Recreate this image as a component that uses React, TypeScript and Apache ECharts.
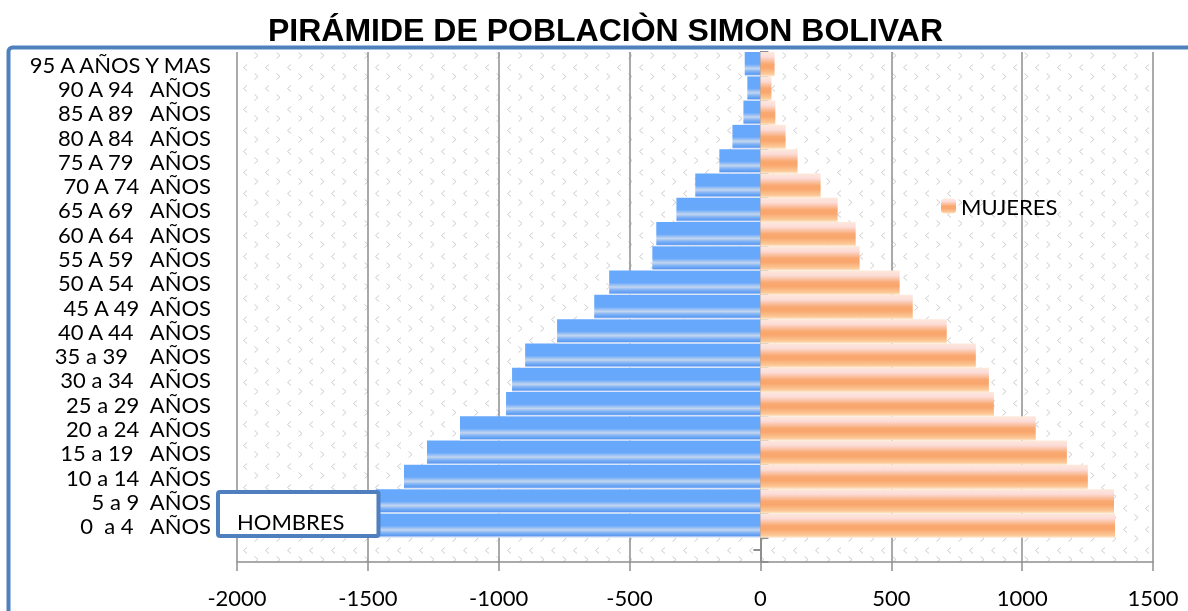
import React, { useEffect, useRef } from 'react';
import * as echarts from 'echarts';

const categories = [
  '',
  '0  a 4   AÑOS',
  '5 a 9  AÑOS',
  '10 a 14  AÑOS',
  '15 a 19   AÑOS',
  '20 a 24  AÑOS',
  '25 a 29  AÑOS',
  '30 a 34   AÑOS',
  '35 a 39    AÑOS',
  '40 A 44   AÑOS',
  '45 A 49  AÑOS',
  '50 A 54   AÑOS',
  '55 A 59   AÑOS',
  '60 A 64   AÑOS',
  '65 A 69   AÑOS',
  '70 A 74  AÑOS',
  '75 A 79   AÑOS',
  '80 A 84   AÑOS',
  '85 A 89   AÑOS',
  '90 A 94   AÑOS',
  '95 A AÑOS Y MAS',
];

const hombres = [null, -1490, -1470, -1362, -1274, -1148, -972, -949, -899, -777, -635, -578, -413, -398, -321, -249, -157, -107, -65, -50, -60];
const mujeres = [null, 1355, 1351, 1251, 1171, 1052, 892, 873, 823, 712, 582, 532, 379, 364, 295, 230, 142, 96, 57, 42, 54];

const xTicks = { min: -2000, max: 1500, interval: 500 };

const FONT = 'Lato, "Noto Sans", sans-serif';

export default function App() {
  const ref = useRef<HTMLDivElement>(null);

  useEffect(() => {
    const el = ref.current as HTMLDivElement;
    const chart = echarts.init(el, null, { renderer: 'svg' });

    const c = document.createElement('canvas');
    c.width = 22;
    c.height = 21;
    const ctx = c.getContext('2d') as CanvasRenderingContext2D;
    ctx.fillStyle = '#ffffff';
    ctx.fillRect(0, 0, 22, 21);
    ctx.strokeStyle = '#cdcdcd';
    ctx.lineWidth = 1;
    ctx.beginPath();
    ctx.moveTo(5, 1.5);
    ctx.lineTo(1.5, 4.5);
    ctx.lineTo(5, 7.5);
    ctx.stroke();
    ctx.beginPath();
    ctx.moveTo(12.5, 10.5);
    ctx.lineTo(16, 13.5);
    ctx.lineTo(12.5, 16.5);
    ctx.stroke();
    const patternUrl = c.toDataURL();

    const blue = new echarts.graphic.LinearGradient(0, 0, 0, 1, [
      { offset: 0, color: '#66a8fc' },
      { offset: 0.5, color: '#68a8fb' },
      { offset: 0.68, color: '#c3d5ef' },
      { offset: 0.8, color: '#7fb2f5' },
      { offset: 0.92, color: '#5b9af2' },
      { offset: 0.97, color: '#dbe4f8' },
      { offset: 1, color: '#dbe4f8' },
    ]);
    const orange = new echarts.graphic.LinearGradient(0, 0, 0, 1, [
      { offset: 0, color: '#fde9dc' },
      { offset: 0.2, color: '#fcdcd8' },
      { offset: 0.5, color: '#f9a870' },
      { offset: 0.65, color: '#f9a66d' },
      { offset: 0.9, color: '#fcc896' },
      { offset: 1, color: '#fee9d0' },
    ]);

    const gridLeft = 237;
    const gridTop = 52;
    const gridRight = 35;
    const gridBottom = 49;

    chart.setOption({
      animation: false,
      textStyle: { fontFamily: FONT },
      title: {
        text: 'PIRÁMIDE DE POBLACIÒN SIMON BOLIVAR',
        left: 263,
        top: 9,
        textStyle: {
          fontFamily: '"Liberation Sans", Arial, sans-serif',
          fontWeight: 'bold',
          fontSize: 32,
          color: '#000',
        },
      },
      grid: { left: gridLeft, right: gridRight, top: gridTop, bottom: gridBottom },
      legend: [
        {
          data: [{ name: 'HOMBRES', itemStyle: { opacity: 0 } }],
          left: 218,
          top: 492,
          orient: 'horizontal',
          selectedMode: false,
          backgroundColor: '#ffffff',
          borderColor: '#4f7fbe',
          borderWidth: 4,
          borderRadius: 2,
          padding: [18, 34, 4, 4],
          itemWidth: 10,
          itemHeight: 10,
          textStyle: { fontFamily: FONT, fontSize: 22, color: '#000' },
          z: 10,
        },
        {
          data: ['MUJERES'],
          left: 941,
          top: 195,
          selectedMode: false,
          padding: 0,
          itemWidth: 15,
          itemHeight: 15,
          textStyle: { fontFamily: FONT, fontSize: 22, color: '#000' },
        },
      ],
      xAxis: {
        type: 'value',
        min: xTicks.min,
        max: xTicks.max,
        interval: xTicks.interval,
        axisLine: { show: true, onZero: false, lineStyle: { color: '#8e8e8e', width: 1.5 } },
        axisTick: { show: true, length: 9, lineStyle: { color: '#8e8e8e', width: 1.5 } },
        splitLine: { show: true, lineStyle: { color: '#8e8e8e', width: 1.5 } },
        axisLabel: {
          margin: 24,
          fontFamily: FONT,
          fontSize: 22,
          color: '#000',
          formatter: (v: number) => String(v),
        },
      },
      yAxis: [
        {
          type: 'category',
          data: categories,
          position: 'left',
          axisLine: { show: false, onZero: false },
          axisTick: { show: false },
          axisLabel: { margin: 26, fontFamily: FONT, fontSize: 22, color: '#000', interval: 0 },
        },
        {
          type: 'category',
          data: categories,
          position: 'left',
          axisLine: { show: true, onZero: true, onZeroAxisIndex: 0, lineStyle: { color: '#8e8e8e', width: 2 } },
          axisTick: { show: true, inside: true, length: 8, interval: 0, lineStyle: { color: '#8e8e8e', width: 2 } },
          axisLabel: { show: false },
        },
        {
          type: 'category',
          data: categories,
          position: 'left',
          axisLine: { show: true, onZero: true, onZeroAxisIndex: 0, lineStyle: { color: '#8e8e8e', width: 2 } },
          axisTick: { show: true, inside: false, alignWithLabel: true, length: 7, interval: 0, lineStyle: { color: '#8e8e8e', width: 2 } },
          axisLabel: { show: false },
        },
      ],
      graphic: [
        {
          type: 'rect',
          z: -10,
          silent: true,
          shape: { x: gridLeft, y: gridTop, width: 1188 - gridLeft - gridRight, height: 611 - gridTop - gridBottom },
          style: {
            fill: { image: patternUrl, repeat: 'repeat', imageWidth: 22, imageHeight: 21 } as any,
          },
        },
        {
          type: 'rect',
          z: 100,
          silent: true,
          shape: { x: 8.5, y: 47.5, width: 1400, height: 800, r: 4 },
          style: { fill: 'none', stroke: '#4f81bd', lineWidth: 4 },
        },
      ],
      series: [
        {
          name: 'HOMBRES',
          type: 'bar',
          data: hombres,
          barCategoryGap: '0%',
          barGap: '-100%',
          itemStyle: { color: blue },
        },
        {
          name: 'MUJERES',
          type: 'bar',
          data: mujeres,
          barCategoryGap: '0%',
          barGap: '-100%',
          itemStyle: { color: orange },
        },
      ],
    });

    return () => {
      chart.dispose();
    };
  }, []);

  return <div ref={ref} style={{ position: 'fixed', left: 0, top: 0, width: 1188, height: 611 }} />;
}
